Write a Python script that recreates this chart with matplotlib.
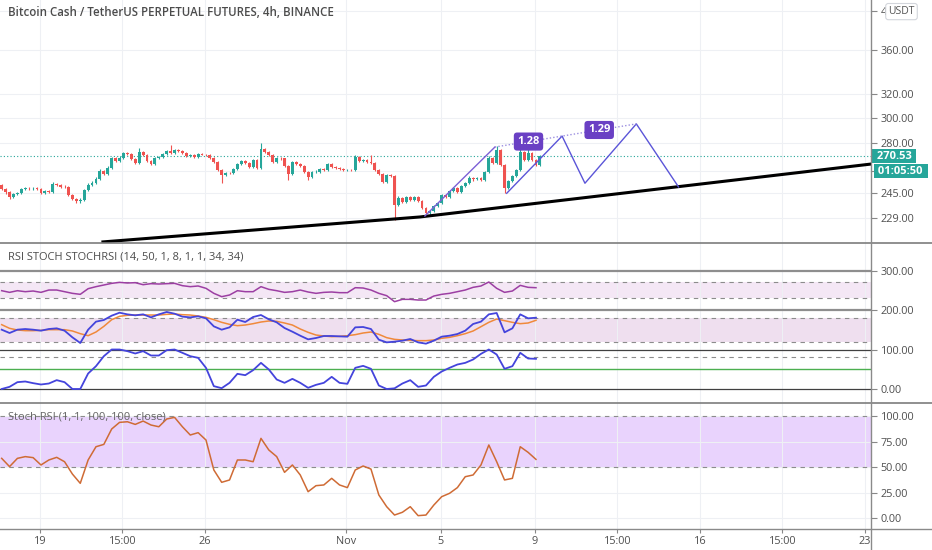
import numpy as np
import matplotlib.pyplot as plt
from matplotlib.lines import Line2D
from matplotlib.ticker import FixedLocator, NullLocator, FuncFormatter

plt.rcParams['font.family'] = ['Open Sans', 'DejaVu Sans']

title = 'Bitcoin Cash / TetherUS PERPETUAL FUTURES, 4h, BINANCE'
pane2_title = 'RSI STOCH STOCHRSI (14, 50, 1, 8, 1, 1, 34, 34)'
pane3_title = 'Stoch RSI (1, 1, 100, 100, close)'

# 4h candles, first one on Oct 17 (days counted from Oct 19 00:00)
start_day = -1.625
first_open = 250.3
closes = [247.6, 245.6, 242.3, 244.3, 245.0, 247.6, 248.3, 248.0, 248.3, 247.6,
          245.0, 246.3, 245.9, 251.0, 250.3, 249.3, 249.0, 243.6, 241.0, 239.7,
          240.7, 246.9, 250.3, 251.7, 254.4, 259.9, 257.8, 262.0, 269.2, 267.0,
          269.2, 272.8, 272.1, 268.5, 265.6, 273.6, 271.3, 267.0, 264.9, 269.2,
          269.9, 272.1, 274.3, 272.8, 275.0, 274.6, 272.8, 270.6, 271.3, 269.9,
          272.1, 271.7, 271.3, 269.2, 266.3, 260.6, 257.1, 258.5, 258.2, 261.3,
          264.9, 267.0, 265.6, 262.7, 267.7, 262.0, 275.7, 273.6, 271.3, 266.3,
          269.2, 268.8, 263.4, 257.8, 266.3, 264.9, 263.4, 259.2, 255.8, 259.2,
          259.5, 261.3, 260.9, 264.9, 262.7, 262.0, 261.3, 260.6, 260.9, 260.6,
          269.9, 267.0, 267.7, 266.3, 265.6, 260.6, 257.8, 252.4, 257.1, 256.5,
          237.2, 241.7, 239.1, 242.3, 240.4, 242.3, 239.7, 235.3, 232.2, 233.4,
          236.6, 238.5, 243.6, 242.3, 246.3, 248.3, 245.6, 249.6, 251.7, 255.1,
          254.1, 255.1, 253.7, 259.2, 269.2, 265.6, 275.0, 264.1, 248.3, 253.1,
          256.5, 260.6, 273.6, 267.7, 272.8, 267.7, 264.1, 270.53]
highs = [251.2, 248.4, 246.2, 245.2, 245.8, 248.5, 249.2, 249.0, 249.3, 249.0,
         248.2, 247.3, 247.0, 252.2, 251.6, 251.0, 250.0, 249.6, 244.5, 241.8,
         241.6, 247.8, 251.4, 252.9, 255.5, 261.0, 260.8, 263.2, 270.0, 270.1,
         270.4, 273.8, 273.6, 272.9, 269.3, 276.5, 274.3, 272.0, 267.9, 270.2,
         270.8, 273.0, 275.2, 278.7, 275.9, 275.8, 275.3, 273.6, 272.2, 272.0,
         273.0, 272.7, 272.4, 272.0, 269.9, 267.0, 261.4, 259.4, 259.3, 262.2,
         265.8, 268.0, 267.8, 266.3, 268.6, 268.4, 280.3, 276.6, 274.4, 272.0,
         270.1, 269.9, 269.5, 264.1, 267.2, 267.0, 265.6, 264.2, 259.9, 260.1,
         260.3, 262.1, 262.0, 265.8, 265.5, 263.4, 262.7, 262.0, 261.6, 261.6,
         271.3, 270.6, 268.5, 268.4, 271.3, 266.3, 261.3, 258.5, 258.0, 257.9,
         257.2, 242.8, 242.4, 243.2, 243.0, 243.1, 243.0, 240.4, 236.0, 234.3,
         237.5, 239.4, 244.6, 244.3, 247.3, 249.2, 249.0, 250.6, 252.6, 256.1,
         255.9, 256.0, 255.8, 260.2, 270.5, 270.0, 278.0, 276.0, 265.0, 254.0,
         257.4, 261.6, 278.7, 274.5, 276.5, 273.6, 268.6, 271.5]
lows = [246.8, 244.6, 241.0, 241.5, 243.6, 244.4, 247.0, 247.2, 247.3, 247.0,
        244.2, 244.4, 245.2, 245.1, 249.6, 248.6, 248.2, 242.8, 240.2, 238.5,
        238.5, 240.0, 246.0, 249.5, 251.0, 253.6, 257.0, 257.1, 261.2, 266.2,
        266.3, 268.6, 271.2, 267.6, 264.6, 264.8, 270.5, 266.2, 264.0, 264.1,
        268.4, 269.1, 271.4, 272.0, 272.1, 273.8, 272.0, 269.8, 269.9, 269.2,
        269.1, 271.0, 270.6, 268.5, 265.5, 259.8, 251.7, 256.3, 257.5, 257.5,
        260.5, 264.0, 264.8, 261.9, 261.8, 261.0, 261.2, 272.8, 270.5, 265.5,
        265.6, 268.0, 262.6, 253.7, 257.0, 264.2, 262.6, 258.4, 253.7, 255.0,
        258.5, 258.8, 260.2, 260.1, 262.0, 261.3, 260.6, 259.9, 259.9, 259.8,
        259.9, 266.2, 266.3, 265.5, 264.8, 259.8, 257.0, 251.5, 251.6, 255.7,
        227.8, 236.4, 238.3, 238.2, 239.6, 239.7, 238.9, 234.5, 231.4, 230.3,
        232.6, 235.8, 237.7, 241.5, 241.6, 245.5, 244.8, 244.9, 248.9, 251.0,
        253.3, 253.4, 253.0, 252.9, 258.5, 264.8, 264.9, 263.3, 245.0, 247.5,
        252.3, 255.7, 259.8, 266.9, 266.9, 266.9, 263.2, 263.3]
last_price = 270.53
countdown = '01:05:50'

# indicator readings, one every second candle
rsi = [48.9, 44.7, 48.9, 46.4, 48.1, 44.7, 50.6, 50.6, 46.4, 42.2,
       39.7, 54.0, 59.1, 63.3, 67.5, 70.0, 68.4, 69.2, 64.1, 66.7,
       65.8, 66.7, 67.5, 61.6, 59.1, 60.8, 54.9, 42.2, 33.8, 38.0,
       48.9, 46.4, 46.4, 59.1, 52.3, 48.9, 44.7, 46.4, 50.6, 45.6,
       42.2, 44.7, 45.6, 43.9, 43.9, 56.5, 55.7, 50.6, 42.2, 36.3,
       21.1, 27.0, 27.0, 25.3, 25.3, 35.4, 39.7, 42.2, 46.4, 50.6,
       57.4, 60.8, 70.9, 54.9, 44.7, 48.1, 62.4, 57.4, 56.5]
stoch_k = [50.2, 41.8, 50.2, 51.9, 50.2, 47.7, 51.9, 53.6, 47.7, 30.8,
           16.5, 50.2, 70.5, 74.7, 85.7, 93.2, 89.0, 86.5, 89.0, 81.4,
           89.0, 95.0, 90.7, 83.2, 81.4, 84.0, 78.9, 58.6, 50.2, 56.1,
           75.5, 69.6, 82.3, 87.3, 76.4, 68.8, 54.4, 45.1, 35.0, 25.7,
           29.1, 34.2, 34.2, 33.3, 32.5, 56.1, 57.0, 51.9, 24.9, 18.1,
           19.8, 22.4, 26.6, 18.1, 14.8, 22.4, 32.5, 35.0, 39.2, 47.7,
           64.6, 70.5, 89.0, 92.4, 43.5, 53.6, 89.0, 78.9, 80.5]
stoch_d = [62.9, 53.6, 49.4, 47.7, 47.7, 48.5, 50.2, 50.2, 50.2, 46.9,
           40.1, 35.0, 44.3, 58.6, 75.5, 84.0, 86.5, 87.3, 87.3, 87.3,
           87.3, 89.0, 89.9, 88.2, 87.3, 84.8, 81.4, 75.5, 68.8, 63.7,
           60.3, 62.0, 65.4, 69.6, 72.2, 71.3, 67.1, 62.0, 51.9, 43.5,
           36.7, 34.2, 32.5, 33.3, 35.0, 37.6, 41.8, 44.3, 38.4, 30.0,
           25.7, 24.1, 23.2, 22.4, 22.4, 24.1, 28.3, 30.8, 35.0, 40.1,
           46.9, 57.8, 68.8, 77.2, 73.0, 68.8, 65.4, 67.1, 73.9]
stoch_rsi = [0.0, 5.5, 17.3, 19.0, 14.8, 11.4, 13.9, 22.4, 17.3, 0.0,
             0.0, 39.2, 57.8, 83.1, 100, 100, 95.8, 89.9, 95.8, 84.8,
             84.8, 98.3, 100, 91.6, 83.1, 78.9, 53.6, 7.2, 2.1, 15.6,
             38.4, 35.0, 47.7, 66.2, 49.4, 24.1, 15.6, 25.7, 15.6, 3.0,
             10.5, 15.6, 30.8, 15.6, 13.1, 53.6, 58.6, 51.1, 8.9, 0.0,
             1.7, 13.9, 22.4, 5.5, 8.9, 30.8, 44.3, 53.6, 62.0, 66.2,
             74.7, 89.0, 100, 87.3, 51.1, 57.8, 91.6, 77.2, 76.4]
stoch_rsi_slow = [58.5, 50.4, 58.5, 60.2, 59.2, 52.0, 56.9, 59.5, 55.2, 43.1,
                  34.0, 56.9, 69.9, 72.2, 87.3, 93.8, 94.4, 91.8, 95.1, 91.2,
                  89.5, 97.1, 98.7, 89.5, 81.4, 83.7, 76.5, 47.1, 35.0, 37.3,
                  56.9, 56.9, 55.2, 78.1, 66.7, 60.2, 44.8, 52.0, 42.2, 25.8,
                  31.7, 32.4, 38.9, 32.4, 29.8, 47.1, 51.0, 48.0, 22.6, 11.1,
                  2.9, 5.6, 11.1, 2.3, 2.9, 12.7, 20.9, 24.2, 29.8, 40.5,
                  42.2, 52.0, 71.6, 55.2, 37.3, 38.9, 69.9, 64.4, 57.5]

# drawings (day, price)
trend_days = [2.67, 16.12, 35.3]
trend_prices = [214.8, 229.7, 264.9]
channel_days = [16.33, 19.30]
channel_prices = [230.3, 277.2]
path_days = [19.80, 22.15, 23.12, 25.30, 27.09]
path_prices = [244.8, 285.5, 251.5, 295.0, 249.0]
ratio_days = [19.30, 22.15, 25.30]
ratio_prices = [277.2, 285.5, 295.0]
ratio_labels = ['1.28', '1.29']

date_ticks = [0, 3.5, 7, 13, 17, 21, 24.5, 28, 31.5, 35]
date_labels = ['19', '15:00', '26', 'Nov', '5', '9', '15:00', '16', '15:00', '23']
price_ticks = [229, 245, 260, 280, 300, 320, 360, 400]
hidden_ticks = [260]  # covered by the countdown label

GREEN = '#26a69a'
RED = '#ef5350'
GRID = '#eef0f4'
W, H = 932, 550

fig = plt.figure(figsize=(9.32, 5.5), dpi=100)


def pane(top, bottom):
    return fig.add_axes([0, 1 - bottom / H, 871 / W, (bottom - top) / H])


ax1 = pane(0, 243.3)
ax2 = pane(243.3, 403.3)
ax3 = pane(403.3, 528.7)

fmt = FuncFormatter(lambda v, p: '{:.2f}'.format(v))
for ax in (ax1, ax2, ax3):
    ax.set_xlim(-1.697, 35.256)
    for s in ax.spines.values():
        s.set_visible(False)
    ax.set_xticks(date_ticks)
    ax.grid(axis='x', color=GRID, lw=0.8)
    ax.set_axisbelow(True)
    ax.yaxis.tick_right()
    ax.tick_params(axis='y', length=4, width=0.8, color='#888888',
                   labelsize=7.8, labelcolor='#4f4f4f', pad=3)
for ax in (ax1, ax2):
    ax.tick_params(axis='x', length=0, labelbottom=False)
ax3.set_xticklabels(date_labels)
ax3.tick_params(axis='x', length=3, width=0.8, color='#888888',
                labelsize=7.8, labelcolor='#4f4f4f', pad=2)

# main pane: candles
n = len(closes)
opens = np.array([first_open] + closes[:-1])
c = np.array(closes)
days = start_day + np.arange(n) / 6
colors = np.where(c >= opens, GREEN, RED)

ax1.set_yscale('log')
ax1.set_ylim(214.0, 411.6)
ax1.yaxis.set_major_locator(FixedLocator(price_ticks))
ax1.yaxis.set_minor_locator(NullLocator())
ax1.yaxis.set_major_formatter(FuncFormatter(
    lambda v, p: '' if round(v) in hidden_ticks else '{:.2f}'.format(v)))
ax1.grid(axis='y', color=GRID, lw=0.8)

ax1.vlines(days, lows, highs, colors=colors, lw=0.8, zorder=3)
body_lo = np.minimum(opens, c)
body_h = np.maximum(np.abs(c - opens), 0.3)
ax1.bar(days, body_h, bottom=body_lo, width=0.12, color=colors, lw=0, zorder=3)

ax1.axhline(last_price, color=GREEN, ls=(0, (1, 2)), lw=0.8)

ax1.plot(trend_days, trend_prices, color='black', lw=2.2, zorder=4)
ax1.plot(channel_days, channel_prices, color='#7c5fd6', lw=1, zorder=4)
ax1.plot(path_days, path_prices, color='#5b55d8', lw=1, zorder=4)
ax1.plot(ratio_days, ratio_prices, color='#9c8fe0', ls=(0, (1, 1.5)), lw=1, zorder=4)
for k, lab in enumerate(ratio_labels):
    md = (ratio_days[k] + ratio_days[k + 1]) / 2
    mp = np.sqrt(ratio_prices[k] * ratio_prices[k + 1])
    ax1.text(md, mp, lab, ha='center', va='center', color='white',
             fontsize=8, fontweight='bold', zorder=6,
             bbox=dict(boxstyle='round,pad=0.32,rounding_size=0.3',
                       fc='#6a40c4', ec='none'))

ax1.annotate(' {:.2f} '.format(last_price), xy=(1, last_price),
             xycoords=ax1.get_yaxis_transform(), xytext=(1.8, 0),
             textcoords='offset points', ha='left', va='center',
             color='white', fontsize=8, fontweight='bold', zorder=10,
             annotation_clip=False,
             bbox=dict(boxstyle='square,pad=0.16', fc=GREEN, ec='none'))
ax1.annotate(' ' + countdown + ' ', xy=(1, last_price),
             xycoords=ax1.get_yaxis_transform(), xytext=(3.2, -10.8),
             textcoords='offset points', ha='left', va='center',
             color='white', fontsize=8, fontweight='bold', zorder=10,
             annotation_clip=False,
             bbox=dict(boxstyle='square,pad=0.16', fc=GREEN, ec='none'))

# second pane: RSI / Stoch / StochRSI stacked with offsets
ind_days = start_day + np.arange(0, n, 2) / 6
ax2.set_ylim(-36.2, 368.9)
ax2.set_yticks([0, 100, 200, 300])
ax2.yaxis.set_major_formatter(fmt)
ax2.axhspan(230, 270, color='#f4e7f5', lw=0, zorder=0)
ax2.axhspan(120, 180, color='#efdfef', lw=0, zorder=0)
for lvl in (300, 200):
    ax2.axhline(lvl, color='#8e8e8e', lw=1.6)
for lvl in (100, 0):
    ax2.axhline(lvl, color='#404040', lw=0.9)
for lvl in (270, 230, 180, 120, 80):
    ax2.axhline(lvl, color='#8c8c8c', lw=0.8, ls=(0, (4, 4)))
ax2.axhline(50, color='#4caf50', lw=1)
ax2.plot(ind_days, np.array(rsi) + 200, color='#9c3fa3', lw=1.1)
ax2.plot(ind_days, np.array(stoch_d) + 100, color='#f0893b', lw=1.1)
ax2.plot(ind_days, np.array(stoch_k) + 100, color='#4444dc', lw=1.3)
ax2.plot(ind_days, stoch_rsi, color='#4444dc', lw=1.3)

# third pane: Stoch RSI
ax3.set_ylim(-10.5, 112.5)
ax3.set_yticks([0, 25, 50, 75, 100])
ax3.yaxis.set_major_formatter(fmt)
ax3.grid(axis='y', color=GRID, lw=0.8)
ax3.axhspan(50, 100, color='#e9d3fd', lw=0, zorder=0.5)
for lvl in (100, 50):
    ax3.axhline(lvl, color='#8c8c8c', lw=0.8, ls=(0, (4, 4)))
ax3.plot(ind_days, stoch_rsi_slow, color='#cf6b35', lw=1.1)

# frame: separators and axis lines
for yy in (243.3, 403.3):
    fig.add_artist(Line2D([0, 1], [1 - yy / H] * 2, transform=fig.transFigure,
                          color='#7d7d7d', lw=1.2))
fig.add_artist(Line2D([0, 1], [1 - 528.7 / H] * 2, transform=fig.transFigure,
                      color='#8a8a8a', lw=1))
fig.add_artist(Line2D([871 / W] * 2, [0, 1], transform=fig.transFigure,
                      color='#8a8a8a', lw=1))

fig.text(8 / W, 1 - 12 / H, title, ha='left', va='center', fontsize=8.3,
         fontweight='semibold', color='#4c4c4c')
fig.text(8 / W, 1 - 257 / H, pane2_title, ha='left', va='center',
         fontsize=8, color='#4c4c4c')
fig.text(8 / W, 1 - 417 / H, pane3_title, ha='left', va='center',
         fontsize=8, color='#666666')
fig.text(901.5 / W, 1 - 11.6 / H, 'USDT', ha='center', va='center',
         fontsize=7.5, color='#555555', zorder=10,
         bbox=dict(boxstyle='round,pad=0.25', fc='white', ec='#d3d6dc', lw=0.8))

fig.savefig('out.png', dpi=100)
